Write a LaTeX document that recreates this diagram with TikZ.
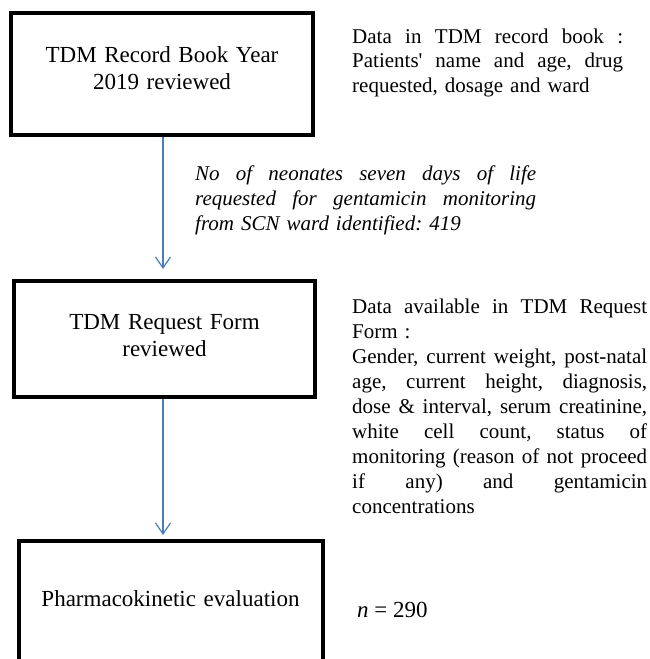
\documentclass[tikz,border=0pt]{standalone}
\usepackage{fontspec}
\setmainfont{Liberation Serif}
\usetikzlibrary{arrows.meta}
\definecolor{arrowblue}{RGB}{74,126,187}
\newcommand\jline[2]{\leavevmode\hbox to #1{\spaceskip=0.25em plus 1fil\relax\xspaceskip=0.25em plus 1fil\relax #2}}
\frenchspacing
\begin{document}
\begin{tikzpicture}[x=1pt,y=-1pt,
  box/.style={draw=black, line width=4pt, inner sep=0pt, rectangle},
  boxtext/.style={inner sep=0pt, anchor=base, text width=300pt, align=center, font=\fontsize{23}{27}\selectfont},
  sidetext/.style={inner sep=0pt, anchor=base west, align=left},
  conn/.style={draw=arrowblue, line width=1.2pt, -{Straight Barb[length=11pt,width=15pt,line width=1.2pt]}}
]
\useasboundingbox (0,0) rectangle (649,659);
\begin{scope}
\clip (0,0) rectangle (649,659);
% boxes
\node[box, minimum width=302pt, minimum height=122pt] (box1) at (162,74) {};
\node[box, minimum width=301.5pt, minimum height=115.5pt] (box2) at (164.25,338.75) {};
\node[box, minimum width=304pt, minimum height=160pt] (box3) at (170.5,620.5) {};
\end{scope}
% box texts
\node[boxtext] (t1) at (162,62.3) {TDM Record Book Year\\2019 reviewed};
\node[boxtext] (t2) at (164.5,329) {TDM Request Form\\reviewed};
\node[boxtext] (t3) at (170.5,606) {Pharmacokinetic evaluation};
% connectors
\coordinate (ax) at (163,0);
\draw[conn, shorten >=10pt] (box1.south -| ax) -- (box2.north -| ax);
\draw[conn, shorten >=3.5pt] (box2.south -| ax) -- (box3.north -| ax);
% side texts
\node[sidetext, text width=271pt, font=\fontsize{21}{24.6}\selectfont] (s1) at (352,43.3) {%
\jline{271pt}{Data in TDM record book :}\\
\jline{271pt}{Patients\textquotesingle{} name and age, drug}\\
requested, dosage and ward};
\node[sidetext, text width=341pt, font=\fontsize{21}{25}\selectfont\itshape] (s2) at (195,180.7) {%
\jline{341pt}{No of neonates seven days of life}\\
\jline{341pt}{requested for gentamicin monitoring}\\
from SCN ward identified: 419};
\node[sidetext, text width=295pt, font=\fontsize{21}{25}\selectfont] (s3) at (352,313) {%
\jline{295pt}{Data available in TDM Request}\\
Form :\\
\jline{295pt}{Gender, current weight, post-natal}\\
\jline{295pt}{age, current height, diagnosis,}\\
\jline{295pt}{dose \& interval, serum creatinine,}\\
\jline{295pt}{white cell count, status of}\\
\jline{295pt}{monitoring (reason of not proceed}\\
\jline{295pt}{if any) and gentamicin}\\
concentrations};
\node[sidetext, font=\fontsize{23}{27}\selectfont] (s4) at (357,617) {\textit{n} = 290};
\end{tikzpicture}
\end{document}
